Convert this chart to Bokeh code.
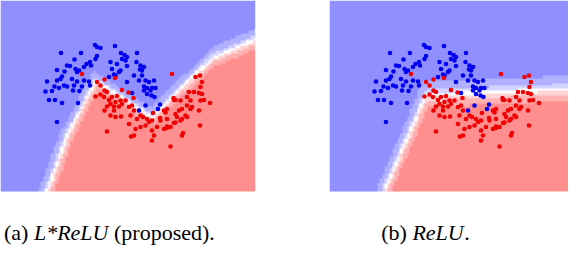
import numpy as np
from bokeh.plotting import figure
from bokeh.models import LinearColorMapper, Range1d
from bokeh.embed import file_html
from bokeh.resources import INLINE
from bokeh.core.properties import value

# ---- data (two-moons sample) ----
blue_x = [-0.11, -0.07, 0.00, 0.29, -0.79, -0.39, -0.07, -0.10, 0.41, 0.48, 0.53, 0.73, 0.43, 0.50,
          -0.52, -0.21, -0.28, -0.67, -0.61, 0.20, 0.33, 0.53, 0.72, 0.80, 0.87, 0.79, 0.83, -0.87,
          -0.72, -0.50, -0.43, -0.33, -0.19, -0.47, 0.23, 0.40, 0.30, 0.37, 0.67, -0.80, -0.87, -0.57,
          -0.47, -0.33, -0.23, -0.77, -1.07, -0.92, -0.83, -0.73, -0.67, -0.53, -0.37, -0.21, 0.17,
          0.27, 0.53, 0.77, 0.90, 0.97, 1.07, 0.87, 0.93, 1.03, 1.00, 1.10, 0.87, 0.63, 0.93, 1.02,
          1.08, 0.83, -1.10, -0.97, -0.55, -0.42, -1.03, -0.91, -0.77, -0.45, -0.87, 0.77, 0.90,
          1.19, 1.15]
blue_y = [1.01, 0.97, 0.95, 0.99, 0.85, 0.85, 0.79, 0.73, 0.85, 0.81, 0.77, 0.85, 0.73, 0.70,
          0.72, 0.67, 0.63, 0.60, 0.59, 0.67, 0.63, 0.59, 0.67, 0.60, 0.57, 0.52, 0.50, 0.51,
          0.48, 0.53, 0.50, 0.57, 0.60, 0.47, 0.53, 0.50, 0.40, 0.47, 0.40, 0.33, 0.30, 0.33,
          0.28, 0.30, 0.28, 0.38, 0.28, 0.18, 0.15, 0.20, 0.18, 0.20, 0.18, 0.20, 0.37,
          0.42, 0.27, 0.30, 0.30, 0.27, 0.30, 0.18, 0.15, 0.15, 0.10, 0.15, 0.10, 0.05, 0.03, 0.00,
          -0.03, 0.40, 0.08, 0.09, 0.10, 0.09, -0.09, -0.09, -0.15, -0.15, -0.53, -0.30, -0.20,
          -0.18, -0.27]
red_x = [-0.37, 0.08, 0.29, 1.43, 1.99, 1.90, 0.43, -0.07, 0.00, 0.08, 0.13, 0.00, -0.10, 0.07,
         0.17, 0.23, 0.33, 0.40, 0.30, 0.20, 0.13, 0.08, 0.27, 0.37, 0.43, 0.50, 0.57, 0.63, 0.67,
         0.27, 0.20, 0.30, 0.41, 0.60, 0.73, 0.80, 0.85, 0.93, 0.97, 0.90, 1.03, 1.13, 0.57, 0.70,
         0.80, 1.03, 0.13, 0.67, 0.61, 1.03, 1.07, 1.27, 1.33, 1.40, 1.47, 1.53, 1.63, 1.50, 1.57,
         1.70, 1.73, 1.60, 1.50, 1.80, 2.00, 2.19, 1.97, 2.07, 2.03, 1.97, 1.87, 1.77, 1.73, 2.00,
         2.03, 1.63, 1.65, 1.40, 1.99, 1.27, 1.33, 1.19, 1.05, 1.33, 1.60, 1.73, 1.80, 1.63, 1.47,
         0.56, 0.66, 1.30, 1.46, 1.83, 1.50, 1.20, 1.33]
red_y = [0.43, 0.32, 0.35, 0.43, 0.40, 0.37, 0.11, 0.27, 0.20, 0.10, 0.07, 0.02, -0.02, -0.03,
         -0.09, -0.03, -0.01, -0.10, -0.13, -0.17, -0.22, -0.30, -0.22, -0.22, -0.17, -0.10, -0.23,
         -0.20, -0.30, -0.30, -0.40, -0.43, -0.42, -0.40, -0.47, -0.40, -0.43, -0.47, -0.53, -0.60,
         -0.50, -0.63, -0.57, -0.67, -0.63, -0.70, -0.72, -0.80, -0.82, -0.90, -0.80, -0.67, -0.62,
         -0.63, -0.55, -0.43, -0.47, -0.37, -0.30, -0.40, -0.43, -0.10, -0.09, -0.10, -0.10, -0.15,
         -0.30, -0.09, 0.03, 0.05, 0.07, 0.07, -0.03, 0.17, 0.27, -0.80, -0.75, -1.02, -0.60, -0.30,
         -0.27, -0.45, -0.35, -0.47, -0.50, -0.20, -0.27, -0.27, -0.09, 0.06, -0.05, -0.34, -0.05,
         -0.23, -0.54, -0.50, -0.65]

# decision boundaries (vertices) and band widths per segment
bound_a_x = [-1.08, -0.68, -0.10, 1.02, 2.24, 3.12]
bound_a_y = [-1.92, -0.80, 0.30, -0.42, 0.76, 1.14]
band_a = [0.066, 0.060, 0.060, 0.064, 0.086]
bound_b_x = [-0.92, -0.08, 3.12]
bound_b_y = [-1.92, 0.02, 0.15]
band_b = [0.066, 0.110]
levels = [-2.30, -0.85, -0.20, 0.405, 1.10, 2.20]
palette = ["#8f8fff", "#b0b0ff", "#d4d4ff", "#ffffff", "#ffd4d4", "#ffb0b0", "#ff8f8f"]

captions = [("(a)", "normal"), ("L*ReLU", "italic"), ("(proposed).", "normal"),
            ("(b)", "normal"), ("ReLU", "italic"), (".", "normal")]

X_FULL = (-2.0, 3.1)
Y_FULL = (-1.92, 1.90)
NX, NY = 102, 76

dxc = (X_FULL[1] - X_FULL[0]) / NX
dyc = (Y_FULL[1] - Y_FULL[0]) / NY
gx = np.linspace(X_FULL[0] + dxc / 2, X_FULL[1] - dxc / 2, NX)
gy = np.linspace(Y_FULL[0] + dyc / 2, Y_FULL[1] - dyc / 2, NY)
GX, GY = np.meshgrid(gx, gy)


def lin(i, bx, by, w):
    ax, ay = bx[i], by[i]
    ddx, ddy = bx[i + 1] - ax, by[i + 1] - ay
    n = np.hypot(ddx, ddy)
    return ((GX - ax) * ddy - (GY - ay) * ddx) / n / w[i]


la = [lin(i, bound_a_x, bound_a_y, band_a) for i in range(5)]
fa = np.minimum(la[0], np.minimum(la[1], np.maximum(la[2], np.minimum(la[3], la[4]))))
lb = [lin(i, bound_b_x, bound_b_y, band_b) for i in range(2)]
fb = np.minimum(lb[0], lb[1])

cmap = LinearColorMapper(palette=palette, low=-0.5, high=6.5)

# one canvas (568 x 246 px); main ranges are pixel units used for the captions
W, H = 568, 246
PX = 0.02            # data units per pixel in both panels
p = figure(width=W, height=H, x_range=Range1d(0, W), y_range=Range1d(H, 0),
           output_backend="svg", toolbar_location=None,
           x_axis_location=None, y_axis_location=None,
           min_border=0, outline_line_color=None)
p.xgrid.visible = False
p.ygrid.visible = False

# panel a occupies canvas x 0..255, panel b canvas x 329..584 (clipped at 568); both y 0..191
p.extra_y_ranges = {"py": Range1d(Y_FULL[1] - H * PX, Y_FULL[1])}
p.extra_x_ranges = {"ax": Range1d(X_FULL[0], X_FULL[0] + W * PX),
                    "bx": Range1d(X_FULL[0] - 329 * PX, X_FULL[0] - 329 * PX + W * PX)}

for field, xr in ((fa, "ax"), (fb, "bx")):
    idx = np.digitize(field, levels).astype(float)
    p.image(image=[idx], x=X_FULL[0], y=Y_FULL[0], dw=X_FULL[1] - X_FULL[0],
            dh=Y_FULL[1] - Y_FULL[0], color_mapper=cmap, x_range_name=xr, y_range_name="py")
    p.scatter(blue_x, blue_y, size=4.6, color="#0000f0", line_color=None,
              x_range_name=xr, y_range_name="py")
    p.scatter(red_x, red_y, size=4.6, color="#f00000", line_color=None,
              x_range_name=xr, y_range_name="py")

# white gap between the panels
p.quad(left=[255], right=[329], top=[0], bottom=[H], fill_color="white", line_color=None)

font = value("Liberation Serif")
cap_x = [3.5, 33.4, 113.5, 380.7, 411.9, 463.7]
for (t, style), x in zip(captions, cap_x):
    p.text(x=[x], y=[232], text=[t], text_font=font, text_font_size="22px",
           text_font_style=style, text_baseline="alphabetic", text_align="left",
           text_color="black")

open("out.html", "w").write(file_html(p, INLINE))
